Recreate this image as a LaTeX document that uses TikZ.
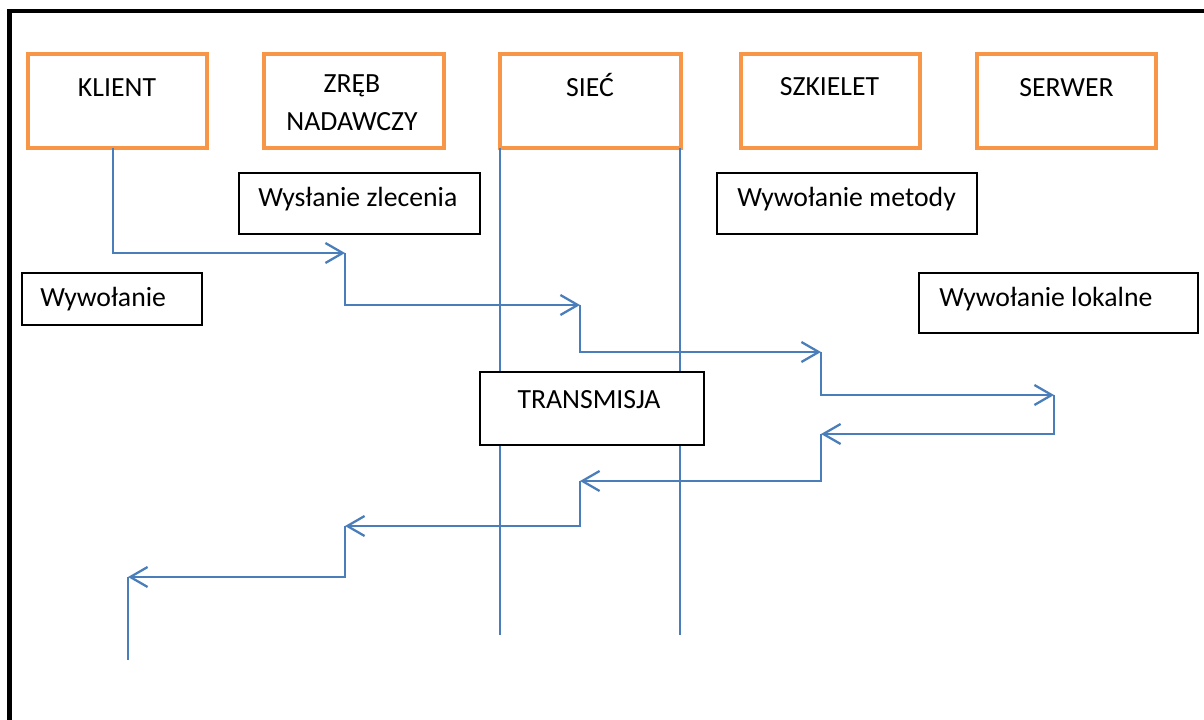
\documentclass[tikz,border=0pt]{standalone}
\usepackage{fontspec}
\setmainfont{Carlito}
\usetikzlibrary{arrows.meta}
\definecolor{ob}{HTML}{F79646}
\definecolor{bl}{HTML}{4A7EBB}
\newcommand\boxnode[6]{\node[#6, minimum width={(#4-#2)*0.75pt}, minimum height={(#5-#3)*0.75pt}] (#1) at ({(#2+#4)/2},{(#3+#5)/2}) {};}
\begin{document}
\begin{tikzpicture}[x=0.75pt,y=-0.75pt,
 obox/.style={draw=ob, line width=3pt, rectangle, inner sep=0pt, outer sep=0pt},
 tbox/.style={draw=black, line width=0.9pt, fill=white, rectangle, inner sep=0pt, outer sep=0pt},
 txt/.style={inner sep=0pt, font=\fontsize{20.8}{28.5}\selectfont},
 conn/.style={draw=bl, line width=1.7pt, -{Straight Barb[length=13pt,width=15pt,line width=1.7pt]}},
 vline/.style={draw=bl, line width=1.7pt}]
\useasboundingbox (0,0) rectangle (1204,720);
\fill[white] (0,0) rectangle (1204,720);
\draw[line width=3.5pt, line join=miter] (9.5,720) -- (9.5,11) -- (1204,11);
% header boxes
\boxnode{klient}{28}{54}{207}{148}{obox}
\boxnode{zreb}{264}{54}{444}{148}{obox}
\boxnode{siec}{500}{54}{681}{148}{obox}
\boxnode{szkielet}{741}{54}{920}{148}{obox}
\boxnode{serwer}{977}{54}{1156}{148}{obox}
\node[txt, anchor=base] (klientT) at (117,97) {KLIENT};
\node[txt, anchor=base] (zrebT1) at (352,93) {ZRĘB};
\node[txt, anchor=base] (zrebT2) at (352,131) {NADAWCZY};
\node[txt, anchor=base] (siecT) at (590,97) {SIEĆ};
\node[txt, anchor=base] (szkieletT) at (829.5,96) {SZKIELET};
\node[txt, anchor=base] (serwerT) at (1066.5,97) {SERWER};
% network lines
\coordinate (s1) at (500,635);
\coordinate (s2) at (680,635);
\draw[vline] (siec.south west) -- (s1);
\draw[vline] (siec.south east -| s2) -- (s2);
% label boxes
\boxnode{wz}{239}{173}{480}{234}{tbox}
\node[txt, anchor=base west] (wzT) at (258,207) {Wysłanie zlecenia};
\boxnode{wm}{717}{173}{977}{234}{tbox}
\node[txt, anchor=base west] (wmT) at (737,207) {Wywołanie metody};
\boxnode{ww}{22}{273}{202}{325}{tbox}
\node[txt, anchor=base west] (wwT) at (40,307) {Wywołanie};
\boxnode{wl}{919}{273}{1198}{333}{tbox}
\node[txt, anchor=base west] (wlT) at (939,307) {Wywołanie lokalne};
\boxnode{tr}{480}{372}{704}{445}{tbox}
\node[txt, anchor=base] (trT) at (589,409) {TRANSMISJA};
% call flow
\coordinate (k0) at (113,148);
\coordinate (p1) at (345,253);
\coordinate (p2) at (580,305);
\coordinate (p3) at (821,352);
\coordinate (p4) at (1054,395);
\coordinate (p5) at (821,434);
\coordinate (p6) at (580,481);
\coordinate (p7) at (345,526);
\coordinate (p8) at (128,577);
\coordinate (p9) at (128,660);
\draw[conn] (k0) |- (p1);
\draw[conn] (p1) |- (p2);
\draw[conn] (p2) |- (p3);
\draw[conn] (p3) |- (p4);
\draw[conn] (p4) |- (p5);
\draw[conn] (p5) |- (p6);
\draw[conn] (p6) |- (p7);
\draw[conn] (p7) |- (p8);
\draw[vline] (p8) -- (p9);
\end{tikzpicture}
\end{document}
